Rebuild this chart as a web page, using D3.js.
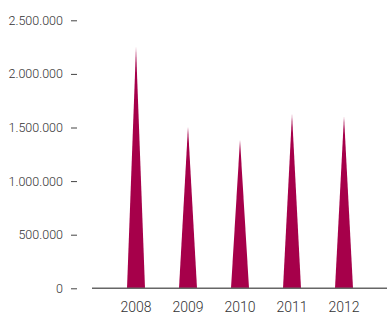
<!DOCTYPE html>
<html>
<head>
<meta charset="utf-8">
<script src="https://cdn.jsdelivr.net/npm/d3@7"></script>
<style>
  body { margin: 0; background: #fff; }
  svg { display: block; }
  text { font-family: Roboto, "Noto Sans", sans-serif; font-weight: 300; fill: #333; }
</style>
</head>
<body>
<svg width="387" height="314"></svg>
<script>
const years = ["2008", "2009", "2010", "2011", "2012"];
const values = [2250000, 1510000, 1385000, 1625000, 1605000];
const yTicks = [0, 500000, 1000000, 1500000, 2000000, 2500000];

const width = 387;
const height = 314;
const spike_color = "#a6004a";
const spike_half = 9;

let svg = d3.select("svg");

const locale = d3.formatLocale({ decimal: ",", thousands: ".", grouping: [3], currency: ["", ""] });
const fmt = locale.format(",d");

const x = d3.scaleBand().domain(years).range([110, 370]);
const y = d3.scaleLinear().domain([0, 2500000]).range([288.3, 20.3]);

// y axis: labels + little dashes, no domain line
const yAxis = svg.append("g")
  .attr("transform", "translate(77,0)")
  .call(d3.axisLeft(y).tickValues(yTicks).tickFormat(fmt).tickSize(6).tickPadding(8));
yAxis.select(".domain").remove();
yAxis.selectAll(".tick line").attr("stroke", "#444").attr("stroke-width", 1);
yAxis.selectAll(".tick text").style("font-size", "12.5px").attr("fill", "#333");

// spikes
svg.append("g")
  .selectAll("path")
  .data(years)
  .enter()
  .append("path")
  .attr("d", (d, i) => {
    const cx = x(d) + x.bandwidth() / 2;
    return d3.line()([
      [cx - spike_half, y(0)],
      [cx, y(values[i])],
      [cx + spike_half, y(0)],
    ]) + "Z";
  })
  .attr("fill", spike_color);

// baseline
svg.append("line")
  .attr("x1", 92)
  .attr("x2", width)
  .attr("y1", y(0))
  .attr("y2", y(0))
  .attr("stroke", "#666")
  .attr("stroke-width", 1.5);

// year labels
svg.append("g")
  .selectAll("text")
  .data(years)
  .enter()
  .append("text")
  .attr("x", d => x(d) + x.bandwidth() / 2)
  .attr("y", 311.5)
  .attr("text-anchor", "middle")
  .style("font-size", "14px")
  .text(d => d);
</script>
</body>
</html>
